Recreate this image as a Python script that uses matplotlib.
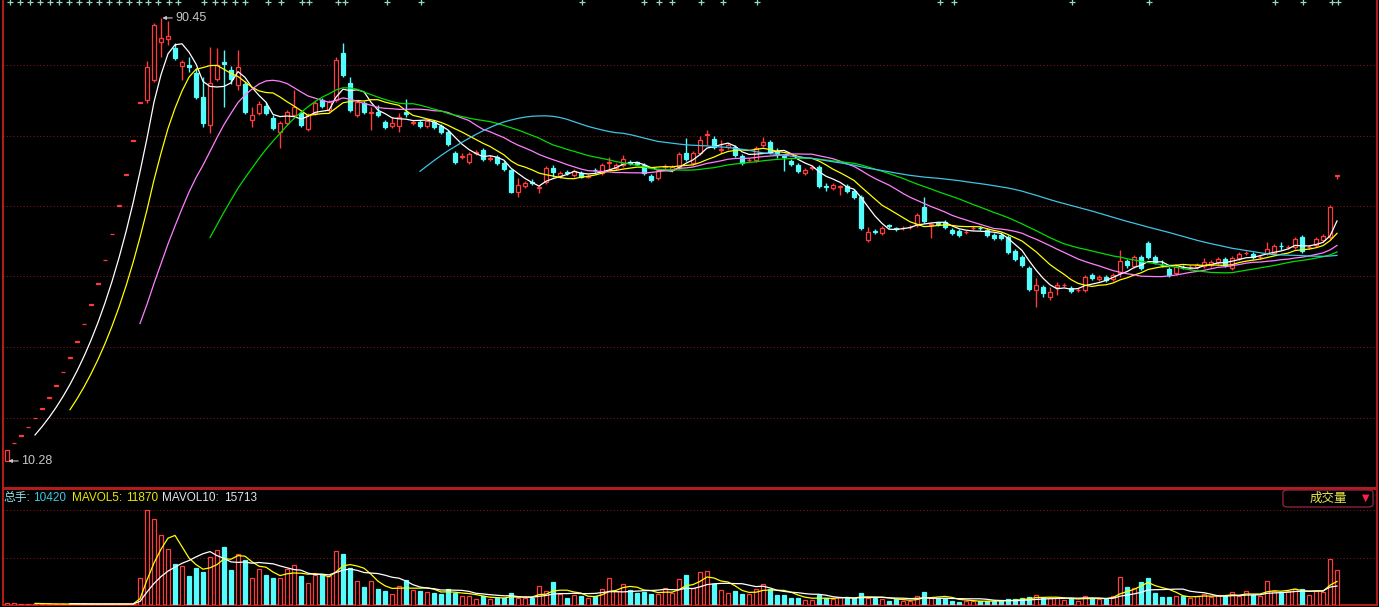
import numpy as np
import matplotlib
matplotlib.use("Agg")
import matplotlib.pyplot as plt
from matplotlib.patches import FancyBboxPatch

# daily candles (index 0 = listing day)
opens = [
    10.28, 13.50, 14.85, 16.34, 17.97, 19.77, 21.75, 23.92, 26.31, 28.95,
    31.84, 35.03, 38.53, 42.38, 46.62, 51.28, 56.41, 62.05, 68.26, 75.08,
    75.60, 79.22, 86.10, 86.64, 85.01, 81.76, 81.94, 80.49, 76.15, 71.08,
    79.40, 82.48, 81.03, 78.32, 78.50, 71.98, 73.25, 74.52, 72.35, 69.81,
    71.44, 72.89, 73.25, 70.36, 73.25, 75.60, 73.79, 75.60, 84.11, 78.68,
    72.89, 75.06, 73.30, 73.43, 71.62, 70.90, 70.90, 73.43, 71.50, 71.62,
    70.90, 71.62, 70.90, 69.81, 66.01, 65.30, 64.38, 66.10, 66.56, 64.90,
    65.29, 64.20, 62.94, 58.96, 60.04, 60.70, 59.60, 60.77, 63.30, 61.85,
    62.50, 62.03, 62.45, 61.70, 63.00, 62.40, 64.20, 63.30, 63.84, 64.40,
    64.30, 63.84, 61.85, 61.49, 63.40, 62.94, 63.48, 66.01, 64.20, 66.01,
    69.20, 68.55, 66.50, 67.10, 67.10, 65.47, 64.70, 64.75, 67.46, 68.01,
    66.10, 65.40, 64.57, 63.84, 62.40, 63.30, 63.48, 60.00, 59.68, 59.90,
    60.04, 59.14, 58.05, 50.27, 51.80, 51.54, 52.90, 52.35, 52.35, 52.55,
    52.98, 56.24, 52.90, 53.30, 53.53, 52.08, 51.90, 51.65, 52.35, 52.50,
    52.08, 51.17, 51.20, 50.81, 48.28, 47.19, 45.20, 41.22, 41.76, 39.96,
    41.76, 42.05, 41.58, 41.15, 41.22, 43.94, 43.21, 43.57, 43.21, 44.30,
    46.47, 45.56, 47.19, 49.73, 47.19, 45.80, 45.02, 44.30, 45.45, 45.35,
    45.38, 45.56, 45.74, 46.29, 46.83, 45.20, 47.01, 47.85, 47.74, 47.15,
    47.92, 47.92, 49.25, 48.95, 49.00, 50.81, 48.95, 49.36, 50.27, 50.81,
    61.86,
]
highs = [
    12.27, 13.50, 14.85, 16.34, 17.97, 19.77, 21.75, 23.92, 26.31, 28.95,
    31.84, 35.03, 38.53, 42.38, 46.62, 51.28, 56.41, 62.05, 68.26, 75.08,
    82.66, 89.59, 90.45, 89.90, 85.92, 82.84, 83.38, 81.39, 79.77, 85.19,
    85.01, 84.65, 81.76, 84.65, 79.00, 74.34, 75.40, 75.20, 72.80, 71.80,
    73.80, 77.41, 73.60, 73.20, 75.40, 76.00, 75.60, 83.30, 85.92, 79.77,
    75.60, 75.40, 74.34, 74.70, 72.00, 72.53, 73.25, 75.78, 72.00, 72.00,
    72.20, 72.00, 71.20, 70.10, 66.40, 66.00, 66.20, 66.60, 66.90, 65.60,
    65.60, 64.50, 63.20, 61.49, 61.00, 61.30, 60.30, 63.60, 63.84, 62.80,
    62.90, 63.10, 62.80, 62.20, 63.30, 64.20, 65.29, 64.20, 65.65, 64.80,
    64.60, 64.20, 62.20, 63.30, 64.00, 63.80, 66.20, 68.73, 66.40, 69.09,
    70.17, 69.09, 68.37, 67.80, 67.50, 65.80, 65.10, 67.30, 68.91, 68.40,
    66.90, 65.70, 64.90, 64.20, 63.30, 63.80, 63.80, 60.60, 60.60, 60.30,
    60.40, 59.50, 58.40, 52.60, 52.20, 52.80, 53.20, 52.70, 52.80, 53.00,
    55.20, 58.05, 53.50, 53.60, 53.90, 52.40, 52.20, 52.10, 52.80, 52.80,
    52.40, 51.50, 51.50, 51.10, 48.60, 47.50, 45.50, 43.39, 42.10, 41.76,
    42.67, 42.50, 41.90, 41.60, 43.90, 44.30, 43.90, 43.90, 44.30, 48.46,
    46.80, 47.50, 47.56, 50.10, 47.50, 46.65, 45.30, 45.70, 45.80, 45.80,
    46.10, 47.01, 46.60, 47.20, 47.20, 47.40, 48.10, 48.30, 48.10, 47.60,
    49.91, 49.50, 49.90, 49.40, 50.80, 51.10, 49.40, 50.80, 51.30, 56.60,
    61.86,
]
lows = [
    10.28, 13.50, 14.85, 16.34, 17.97, 19.77, 21.75, 23.92, 26.31, 28.95,
    31.84, 35.03, 38.53, 42.38, 46.62, 51.28, 56.41, 62.05, 68.26, 75.08,
    75.08, 78.90, 83.38, 85.56, 82.84, 79.22, 80.67, 75.80, 70.72, 69.63,
    79.00, 74.34, 78.50, 77.41, 73.00, 70.72, 72.80, 72.90, 70.20, 66.92,
    71.00, 72.50, 70.70, 70.00, 72.90, 74.20, 73.40, 75.30, 79.80, 73.40,
    72.50, 73.00, 70.17, 72.50, 70.40, 70.60, 69.81, 72.50, 71.00, 70.60,
    70.60, 70.40, 69.50, 67.30, 64.00, 64.90, 64.00, 65.70, 64.60, 64.60,
    63.90, 62.80, 58.70, 58.05, 59.70, 60.20, 58.77, 60.40, 61.67, 61.50,
    62.00, 61.70, 61.40, 61.40, 62.60, 62.00, 62.94, 63.00, 63.50, 63.90,
    63.80, 62.10, 60.80, 61.20, 63.10, 62.60, 63.20, 64.60, 63.90, 65.70,
    67.46, 66.80, 66.00, 66.80, 65.30, 63.90, 64.40, 64.40, 67.10, 65.90,
    65.10, 62.76, 63.70, 62.40, 62.10, 63.00, 59.70, 59.10, 59.40, 58.41,
    58.80, 57.70, 52.10, 49.90, 51.30, 51.20, 52.50, 51.90, 52.00, 52.20,
    52.60, 53.30, 50.63, 52.80, 52.30, 51.20, 50.90, 51.40, 52.00, 52.10,
    50.90, 50.30, 50.30, 47.80, 46.50, 45.40, 41.10, 38.15, 39.96, 39.41,
    40.32, 41.70, 40.70, 40.80, 40.90, 43.00, 42.90, 42.70, 42.90, 43.57,
    45.20, 45.20, 44.90, 46.90, 46.00, 45.40, 43.60, 44.00, 45.00, 45.00,
    45.00, 45.20, 45.40, 46.00, 45.40, 44.90, 46.70, 47.50, 46.90, 46.80,
    47.60, 47.60, 48.46, 48.60, 48.70, 48.00, 48.60, 49.00, 49.90, 50.50,
    61.30,
]
closes = [
    12.27, 13.50, 14.85, 16.34, 17.97, 19.77, 21.75, 23.92, 26.31, 28.95,
    31.84, 35.03, 38.53, 42.38, 46.62, 51.28, 56.41, 62.05, 68.26, 75.08,
    81.58, 89.18, 86.82, 87.19, 83.20, 82.48, 81.58, 76.15, 71.44, 78.68,
    81.94, 82.12, 79.40, 81.58, 73.43, 72.89, 74.88, 73.25, 70.54, 71.44,
    73.43, 74.34, 71.08, 72.89, 75.06, 74.52, 75.24, 82.84, 80.13, 73.79,
    75.24, 73.43, 73.43, 72.89, 70.72, 71.44, 72.53, 73.10, 71.60, 70.90,
    71.80, 70.72, 69.81, 67.64, 64.38, 65.50, 65.83, 66.20, 64.93, 65.10,
    64.20, 63.12, 58.96, 60.22, 60.58, 60.50, 59.90, 63.30, 62.58, 62.40,
    62.40, 62.76, 61.72, 61.80, 62.90, 63.84, 64.40, 63.84, 64.93, 64.25,
    64.10, 62.45, 61.13, 62.94, 63.60, 63.48, 65.83, 64.93, 66.01, 68.37,
    69.40, 67.10, 66.70, 67.46, 65.65, 64.20, 64.80, 66.92, 68.01, 66.20,
    66.00, 65.30, 64.02, 62.76, 62.94, 63.40, 60.04, 59.90, 60.22, 60.00,
    59.14, 58.05, 52.44, 51.72, 51.70, 52.44, 52.80, 52.25, 52.45, 52.65,
    54.79, 53.70, 53.10, 53.15, 52.62, 51.54, 51.17, 51.75, 52.45, 52.40,
    51.17, 50.63, 50.60, 48.10, 46.83, 45.74, 41.40, 42.13, 40.68, 40.86,
    42.13, 42.15, 41.04, 41.25, 43.57, 43.39, 43.57, 43.03, 43.94, 46.47,
    45.74, 47.19, 45.20, 47.19, 46.29, 45.70, 43.94, 45.38, 45.35, 45.45,
    45.74, 46.29, 46.29, 46.83, 45.74, 47.01, 47.74, 47.95, 47.19, 47.25,
    48.64, 49.18, 49.15, 49.05, 50.45, 48.28, 49.05, 50.45, 50.99, 56.24,
    61.86,
]
# 总手 per day
volumes = [
    600, 600, 450, 450, 300, 300, 300, 300, 300, 300,
    300, 300, 300, 300, 300, 300, 300, 300, 300, 8100,
    28500, 25800, 21000, 16800, 12300, 11700, 8700, 11100, 9900, 14400,
    16500, 17400, 10500, 15300, 13500, 8100, 10800, 9000, 8100, 8100,
    10800, 12000, 8700, 6600, 9000, 9300, 8700, 16200, 15300, 11100,
    7200, 5400, 7200, 4800, 4200, 3300, 5700, 7500, 4500, 4200,
    3900, 3600, 3300, 4800, 3600, 2700, 2700, 1800, 2700, 1800,
    2100, 2100, 3600, 2100, 2100, 2100, 5700, 4200, 6900, 3300,
    2100, 3000, 2700, 2100, 2700, 4800, 8100, 4200, 6300, 4500,
    3600, 3900, 3300, 3300, 5100, 3600, 7800, 9000, 5100, 9900,
    10200, 6300, 4500, 3600, 4200, 3300, 3300, 4800, 6300, 4800,
    3000, 3000, 2100, 2100, 1500, 1500, 3000, 2100, 1800, 2400,
    2100, 2100, 3600, 2100, 2100, 1800, 1200, 1800, 1200, 1200,
    2700, 3900, 2100, 2100, 2100, 1200, 900, 1200, 1200, 1200,
    1200, 1200, 1200, 1800, 1800, 2100, 2400, 3000, 2100, 2100,
    2100, 1500, 2100, 1200, 2700, 2100, 1800, 1800, 2700, 8400,
    5400, 5100, 6900, 8100, 3600, 2400, 2400, 2700, 2700, 2100,
    2700, 3300, 2400, 3000, 2700, 3900, 2700, 4200, 3000, 2700,
    7200, 4200, 3600, 4200, 4800, 4800, 3000, 4200, 3900, 13800,
    10420,
]
# info-mine markers along the top edge (candle index units)
info_marks = [0.4, 1.8, 3.3, 4.7, 6.1, 7.5, 8.9, 10.3, 11.7, 13.1, 14.6, 16.0,
              17.4, 18.8, 20.2, 21.6, 23.1, 24.4, 28.1, 29.7, 31.0, 32.6, 34.0,
              37.3, 39.1, 42.1, 43.1, 47.3, 48.3, 54.3, 59.1, 82.1, 91.0, 93.1,
              95.0, 99.1, 102.3, 107.1, 133.3, 135.3, 152.1, 163.1, 181.1,
              185.1, 189.3, 190.1]
ma_periods = [5, 10, 20, 30, 60]
mavol_periods = [5, 10]
header_parts = ["总手:", "10420", "MAVOL5:", "11870", "MAVOL10:", "15713"]

RED = "#ff3c3c"
CYAN = "#54fcfc"
BORDER = "#b81c1c"
GRID = "#7a1818"
ma_colors = ["#ffffff", "#ffff00", "#ff80ff", "#00dd00", "#3fc4e4"]
mavol_colors = ["#ffff00", "#ffffff"]
header_colors = ["#8fe0ec", "#3cc8e0", "#e8e800", "#e8e800", "#e6e6e6", "#e6e6e6"]
header_x = [3, 33, 72, 126, 162, 224]
CJK = ["Liberation Sans", "Noto Sans CJK SC", "DejaVu Sans"]

W, H = 1379, 607
fig = plt.figure(figsize=(W / 100, H / 100), dpi=100, facecolor="black")


def px_axes(left, top, right, bottom):
    a = fig.add_axes([left / W, 1 - bottom / H, (right - left) / W, (bottom - top) / H])
    a.set_facecolor("black")
    a.set_xticks([])
    a.set_yticks([])
    return a


ax = px_axes(3, 0, 1377, 488)
axv = px_axes(3, 489, 1377, 605)

o, h, l, c = (np.array(v) for v in (opens, highs, lows, closes))
vol = np.array(volumes, dtype=float)
x = np.arange(len(c))
up = c >= o
col = np.where(up, RED, CYAN)
face = np.where(up, "black", CYAN)

xlim = (-0.571, 195.71)
ylo, yhi = 5.39, 93.70

# price panel
ax.vlines(x, l, h, colors=col, lw=1, zorder=2)
ax.bar(x, np.maximum(np.abs(c - o), 0.12), 0.7, bottom=np.minimum(o, c),
       color=face, edgecolor=col, linewidth=0.9, zorder=3)
for p, mc in zip(ma_periods, ma_colors):
    ma = np.convolve(c, np.ones(p) / p, mode="valid")
    ax.plot(x[p - 1:], ma, color=mc, lw=0.9, zorder=4)
for k in range(1, 7):
    ax.axhline(ylo + k * 70.5 / 488 * (yhi - ylo), color=GRID, lw=0.8, ls=(0, (1, 2)), zorder=1)
ax.plot(info_marks, [yhi - 0.4] * len(info_marks), ls="none", marker="+", ms=4,
        mew=0.9, color="#96d6c8", clip_on=False, zorder=5)
ax.set_xlim(*xlim)
ax.set_ylim(ylo, yhi)

# highest / lowest labels
ihi, ilo = int(np.argmax(h)), int(np.argmin(l))
for i, val in ((ihi, h[ihi]), (ilo, l[ilo])):
    ax.annotate("%.2f" % val, xy=(i, val), xytext=(14, 0), textcoords="offset pixels",
                ha="left", va="center", color="#c8c8c8", fontsize=9, family=CJK,
                arrowprops=dict(arrowstyle="-|>", color="#c8c8c8", lw=0.8,
                                shrinkA=0, shrinkB=1, mutation_scale=5))

# volume panel
axv.bar(x, vol, 0.7, color=face, edgecolor=col, linewidth=0.9, zorder=3)
for p, mc in zip(mavol_periods, mavol_colors):
    mv = np.convolve(vol, np.ones(p) / p, mode="valid")
    axv.plot(x[p - 1:], mv, color=mc, lw=0.9, zorder=4)
for gy in (14250, 28500):
    axv.axhline(gy, color=GRID, lw=0.8, ls=(0, (1, 2)), zorder=1)
axv.set_xlim(*xlim)
axv.set_ylim(0, 34800)

for a in (ax, axv):
    for s in a.spines.values():
        s.set_color(BORDER)
        s.set_linewidth(1.4)
ax.spines["top"].set_visible(False)

# header of the volume panel
for txt, tc, tx in zip(header_parts, header_colors, header_x):
    fig.text(tx / W, 1 - 498 / H, txt, color=tc, fontsize=8.5, family=CJK,
             ha="left", va="center")

box = FancyBboxPatch((1283 / W, 1 - 507 / H), 90 / W, 17 / H,
                     boxstyle="round,pad=0,rounding_size=0.004",
                     transform=fig.transFigure, facecolor="black",
                     edgecolor="#8a2040", lw=1)
fig.patches.append(box)
fig.text(1328 / W, 1 - 498 / H, "成交量", color="#e8e84a", fontsize=9,
         family=["Noto Sans CJK SC", "DejaVu Sans"], ha="center", va="center")
fig.text(1366 / W, 1 - 498 / H, "▼", color="#ff2050", fontsize=7,
         family=["DejaVu Sans"], ha="center", va="center")

fig.savefig("out.png", dpi=100, facecolor="black")
